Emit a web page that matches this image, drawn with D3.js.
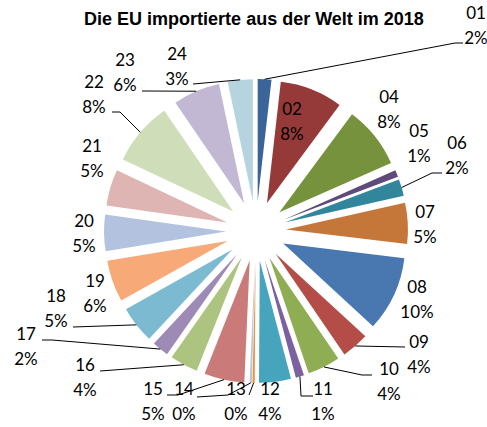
<!DOCTYPE html>
<html>
<head>
<meta charset="utf-8">
<script src="https://cdn.jsdelivr.net/npm/d3@7/dist/d3.min.js"></script>
<style>
  html, body { margin: 0; padding: 0; background: #fff; }
  svg { display: block; }
</style>
</head>
<body>
<svg id="chart" width="487" height="427"></svg>
<script>
// ---- data ----
const title = "Die EU importierte aus der Welt im 2018";
const categories = ["01","02","04","05","06","07","08","09","10","11","12","13","14","15","16","17","18","19","20","21","22","23","24"];
const values = [1.8, 8.3, 8.2, 0.9, 2.2, 5.4, 9.9, 3.6, 4.3, 1.1, 4.2, 0.3, 0.3, 5.3, 3.7, 2.2, 4.9, 5.5, 4.8, 4.8, 8.4, 6.2, 3.3];
const colors = ["#3B6498","#953A38","#76923C","#5F4A7B","#31869B","#C5773A","#4978B1","#B44C48","#8FAE53","#7B61A0","#47A4BD","#F3913F","#B8C6E0","#CA7B79","#ACC47F","#9D8BB6","#7BBAD0","#F7AA77","#B3C3DF","#DFB5B4","#CFDDB9","#C3B8D3","#B6D4E0"];

// ---- layout (label placement, not data) ----
const labelLayout = {
  "01": {x: 476, y: 19, leader: [[463,43],[455,43]]},
  "02": {x: 292, y: 115},
  "04": {x: 389, y: 103},
  "05": {x: 419, y: 137},
  "06": {x: 457, y: 149, leader: [[442,173],[432,173]]},
  "07": {x: 425, y: 218},
  "08": {x: 417, y: 293},
  "09": {x: 419, y: 348, leader: [[405,347]]},
  "10": {x: 389, y: 375, leader: [[372,375],[362,375]]},
  "11": {x: 323, y: 395, leader: [[313,396],[301,396]]},
  "12": {x: 270, y: 395},
  "13": {x: 236, y: 395, leader: [[249,395]]},
  "14": {x: 184, y: 395, leader: [[197,397],[228,395]]},
  "15": {x: 153, y: 395, leader: [[167,395],[178,395]]},
  "16": {x: 85,  y: 371, leader: [[100,371]]},
  "17": {x: 26,  y: 340, leader: [[42,340],[52,340]]},
  "18": {x: 56,  y: 302, leader: [[73,327]]},
  "19": {x: 95,  y: 287},
  "20": {x: 84,  y: 227},
  "21": {x: 92,  y: 152},
  "22": {x: 94,  y: 88,  leader: [[112,112],[120,112]]},
  "23": {x: 125, y: 66,  leader: [[142,91]]},
  "24": {x: 177, y: 60,  leader: [[193,84]]}
};

const cx = 256, cy = 231, radius = 122, explode = 30, lineGap = 25;

const svg = d3.select("#chart");

svg.append("text")
  .attr("x", 254).attr("y", 25)
  .attr("text-anchor", "middle")
  .attr("font-family", "'Liberation Sans', Arial, sans-serif")
  .attr("font-weight", "bold")
  .attr("font-size", 18)
  .attr("fill", "#000")
  .text(title);

const total = d3.sum(values);
const pie = d3.pie().sort(null).value(d => d.value);
const arcs = pie(categories.map((c, i) => ({cat: c, value: values[i], color: colors[i]})));
const arc = d3.arc().innerRadius(0).outerRadius(radius);
const mid = a => (a.startAngle + a.endAngle) / 2;

const g = svg.append("g").attr("transform", `translate(${cx},${cy})`);

g.selectAll("path.slice")
  .data(arcs)
  .join("path")
  .attr("class", "slice")
  .attr("d", arc)
  .attr("fill", d => d.data.color)
  .attr("transform", d => {
    const [dx, dy] = d3.pointRadial(mid(d), explode);
    return `translate(${dx},${dy})`;
  });

// leader lines
const line = d3.line();
arcs.forEach(a => {
  const L = labelLayout[a.data.cat];
  if (!L || !L.leader) return;
  const [px, py] = d3.pointRadial(mid(a), explode + radius);
  const pts = L.leader.concat([[cx + px, cy + py]]);
  svg.append("path")
    .attr("d", line(pts))
    .attr("fill", "none")
    .attr("stroke", "#000")
    .attr("stroke-width", 1);
});

// labels
arcs.forEach(a => {
  const L = labelLayout[a.data.cat];
  const pct = Math.round(a.data.value / total * 100) + "%";
  const t = svg.append("text")
    .attr("text-anchor", "middle")
    .attr("font-family", "Lato, 'Open Sans', sans-serif")
    .attr("font-size", 17)
    .attr("fill", "#000");
  t.append("tspan").attr("x", L.x).attr("y", L.y).text(a.data.cat);
  t.append("tspan").attr("x", L.x).attr("y", L.y + lineGap).text(pct);
});
</script>
</body>
</html>
